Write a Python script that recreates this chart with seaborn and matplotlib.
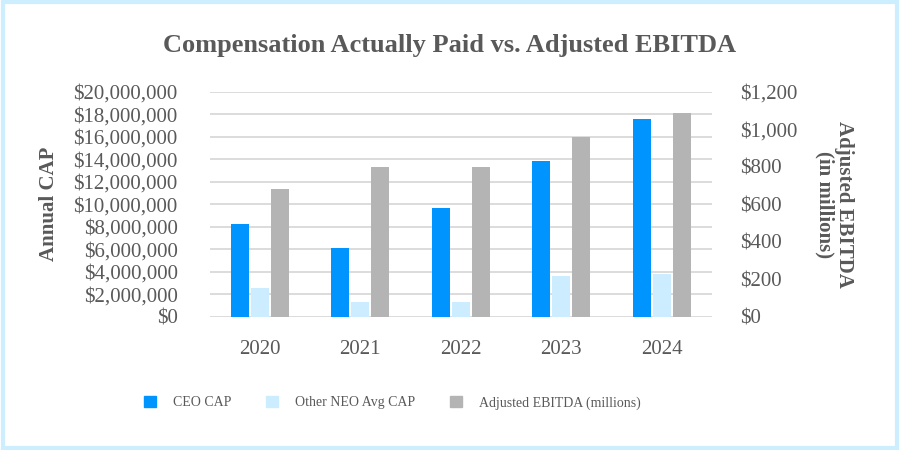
import numpy as np
import pandas as pd
import seaborn as sns
import matplotlib.pyplot as plt
from matplotlib.patches import Rectangle
from matplotlib.ticker import FuncFormatter

years = ["2020", "2021", "2022", "2023", "2024"]
ceo_cap = [8210000, 6090000, 9630000, 13890000, 17610000]
neo_cap = [2540000, 1300000, 1300000, 3610000, 3840000]
ebitda = [684, 801, 801, 961, 1088]

series = ["CEO CAP", "Other NEO Avg CAP", "Adjusted EBITDA (millions)"]
colors = ["#0094FF", "#CCEDFF", "#B4B4B4"]

# long tables: left axis gets the CAP series, right axis the EBITDA series
left = pd.DataFrame({
    "year": years * 3,
    "series": [series[0]] * 5 + [series[1]] * 5 + [series[2]] * 5,
    "value": ceo_cap + neo_cap + [0] * 5,
})
right = pd.DataFrame({
    "year": years * 3,
    "series": [series[0]] * 5 + [series[1]] * 5 + [series[2]] * 5,
    "value": [0] * 10 + ebitda,
})

sns.set_theme(style="white")
plt.rcParams["font.family"] = ["Liberation Serif", "DejaVu Serif"]
gray = "#595959"

fig = plt.figure(figsize=(9, 4.5), dpi=100)
ax = fig.add_axes([0.233, 0.296, 0.558, 0.5])
ax2 = ax.twinx()

sns.barplot(data=left, x="year", y="value", hue="series", hue_order=series,
            palette=colors, saturation=1, width=0.6, gap=0.1, linewidth=0,
            ax=ax, legend=False, errorbar=None)
sns.barplot(data=right, x="year", y="value", hue="series", hue_order=series,
            palette=colors, saturation=1, width=0.6, gap=0.1, linewidth=0,
            ax=ax2, legend=False, errorbar=None)

ax.set_ylim(0, 20000000)
ax.set_yticks(np.arange(0, 20000001, 2000000))
ax.yaxis.set_major_formatter(FuncFormatter(lambda v, p: f"${v:,.0f}"))
ax2.set_ylim(0, 1200)
ax2.set_yticks(np.arange(0, 1201, 200))
ax2.yaxis.set_major_formatter(FuncFormatter(lambda v, p: f"${v:,.0f}"))

ax.grid(axis="y", color="#D9D9D9", linewidth=1.3)
ax.set_axisbelow(True)
for a in (ax, ax2):
    for s in a.spines.values():
        s.set_visible(False)
ax.tick_params(axis="y", length=0, pad=23, labelsize=15, labelcolor=gray)
ax.tick_params(axis="x", length=0, pad=17, labelsize=15, labelcolor=gray)
ax2.tick_params(axis="y", length=0, pad=20, labelsize=15, labelcolor=gray)

ax.set_xlabel("")
ax.set_ylabel("Annual CAP", fontsize=15, fontweight="bold", color=gray, labelpad=10)
ax2.set_ylabel("Adjusted EBITDA\n(in millions)", fontsize=15, fontweight="bold",
               color=gray, rotation=270, labelpad=41, linespacing=0.95)

fig.suptitle("Compensation Actually Paid vs. Adjusted EBITDA", x=0.5, y=0.925,
             fontsize=19, fontweight="bold", color=gray)

handles = [Rectangle((0, 0), 1, 1, color=c) for c in colors]
leg = fig.legend(handles, series, loc="center", bbox_to_anchor=(0.436, 0.105),
                 ncol=3, frameon=False, fontsize=10, handlelength=0.86,
                 handleheight=0.86, handletextpad=1.22, columnspacing=2.5)
for t in leg.get_texts():
    t.set_color(gray)

fig.patches.append(Rectangle((0.003, 0.005), 0.994, 0.99, transform=fig.transFigure,
                             fill=False, edgecolor="#CDEEFF", linewidth=3))

fig.savefig("out.png", dpi=100)
